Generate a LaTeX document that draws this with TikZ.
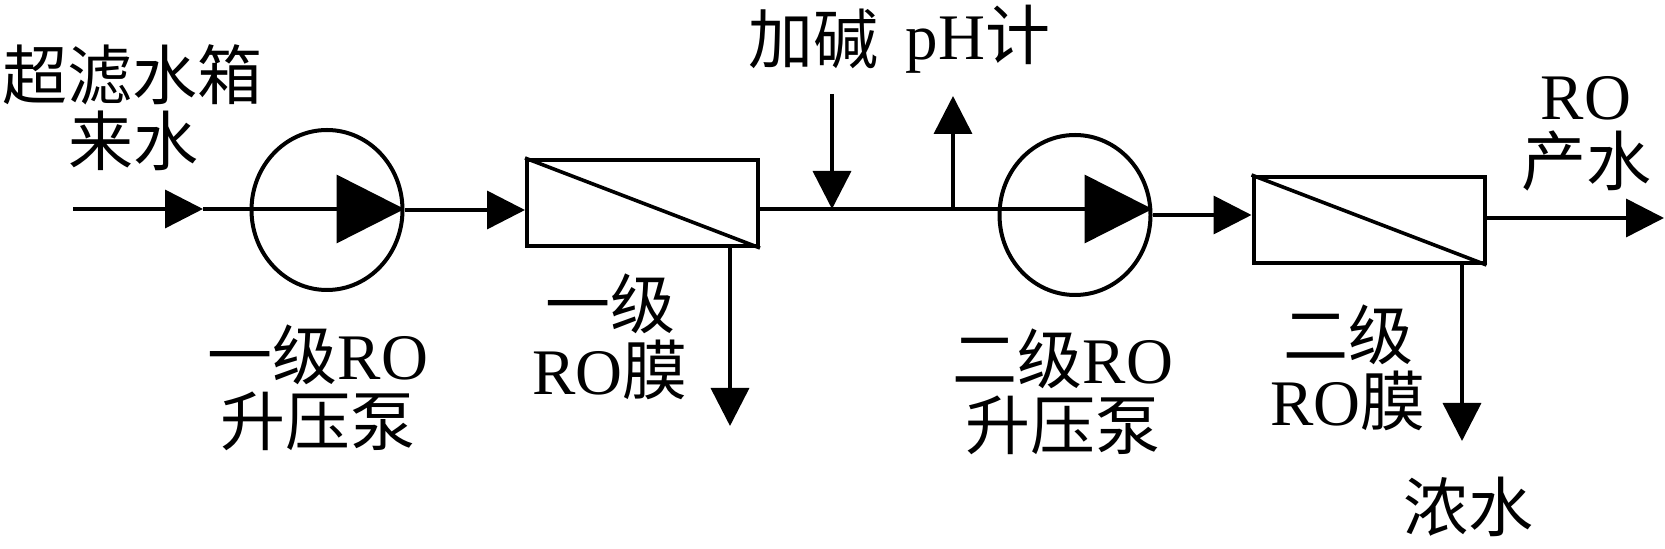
\documentclass[tikz,border=0pt]{standalone}
\usepackage{fontspec}
\setmainfont{Liberation Serif}
\newfontfamily\cjk{Noto Sans CJK SC}
\usetikzlibrary{arrows.meta,shapes.geometric}
\newcommand\lat[1]{{\rmfamily #1}}

\begin{document}
\begin{tikzpicture}[x=0.5pt,y=-0.5pt,line width=1.8pt,
		flow/.style={-{Triangle[length=19pt,width=19pt]}},
		bigflow/.style={-{Triangle[length=34pt,width=34pt]}},
		pump/.style={ellipse,draw,line width=2pt,minimum width=75.5pt,minimum height=80pt,inner sep=0pt},
		membrane/.style={rectangle,draw,line width=2pt,minimum width=115.5pt,minimum height=43pt,inner sep=0pt},
		lbl/.style={align=center,font=\cjk\fontsize{32.5}{33}\selectfont,inner sep=0pt}]
	\useasboundingbox (0,0) rectangle (1665,549);
	% equipment
	\node[pump] (pump1) at (327,210) {};
	\node[membrane] (mem1) at (642.5,203) {};
	\node[pump] (pump2) at (1075,215) {};
	\node[membrane] (mem2) at (1369,220) {};
	\draw (mem1.north west) -- (mem1.south east);
	\draw (mem2.north west) -- (mem2.south east);
	% stream points
	\coordinate (in) at (73,209);
	\coordinate (a1) at (203,209);
	\coordinate (alk) at (832,209);
	\coordinate (alktop) at (832,94);
	\coordinate (ph) at (953,209);
	\coordinate (phtop) at (953,96);
	\coordinate (d1) at (730,426);
	\coordinate (d2) at (1462,441);
	\coordinate (out) at (1664,218);
	% stage one
	\draw[flow] (in) -- (a1);
	\draw (a1) -- (a1 -| pump1.west);
	\draw[bigflow] (a1 -| pump1.west) -- (a1 -| pump1.east);
	\draw[flow] (pump1.east) -- (pump1.east -| mem1.west);
	\draw[flow] (mem1.south -| d1) -- (d1);
	\draw (mem1.east |- alk) -- (alk) -- (ph) -- (ph -| pump2.west);
	\draw[flow] (alktop) -- (alk);
	\draw[flow] (ph) -- (phtop);
	% stage two
	\draw[bigflow] (ph -| pump2.west) -- (ph -| pump2.east);
	\draw[flow] (pump2.east) -- (pump2.east -| mem2.west);
	\draw[flow] (mem2.east |- out) -- (out);
	\draw[flow] (mem2.south -| d2) -- (d2);
	% labels
	\node[lbl] (srclbl) at (133,108) {超滤水箱\\来水};
	\node[lbl] (pump1lbl) at (318,388) {一级\lat{RO}\\升压泵};
	\node[lbl] (mem1lbl) at (610,337) {一级\\\lat{RO}膜};
	\node[lbl] (alklbl) at (813,39) {加碱};
	\node[lbl] (phlbl) at (978,39) {\lat{pH}计};
	\node[lbl] (pump2lbl) at (1063,392) {二级\lat{RO}\\升压泵};
	\node[lbl] (mem2lbl) at (1348,368) {二级\\\lat{RO}膜};
	\node[lbl] (outlbl) at (1586,134) {\lat{RO}\\产水};
	\node[lbl] (brinelbl) at (1468,507) {浓水};
\end{tikzpicture}
\end{document}
